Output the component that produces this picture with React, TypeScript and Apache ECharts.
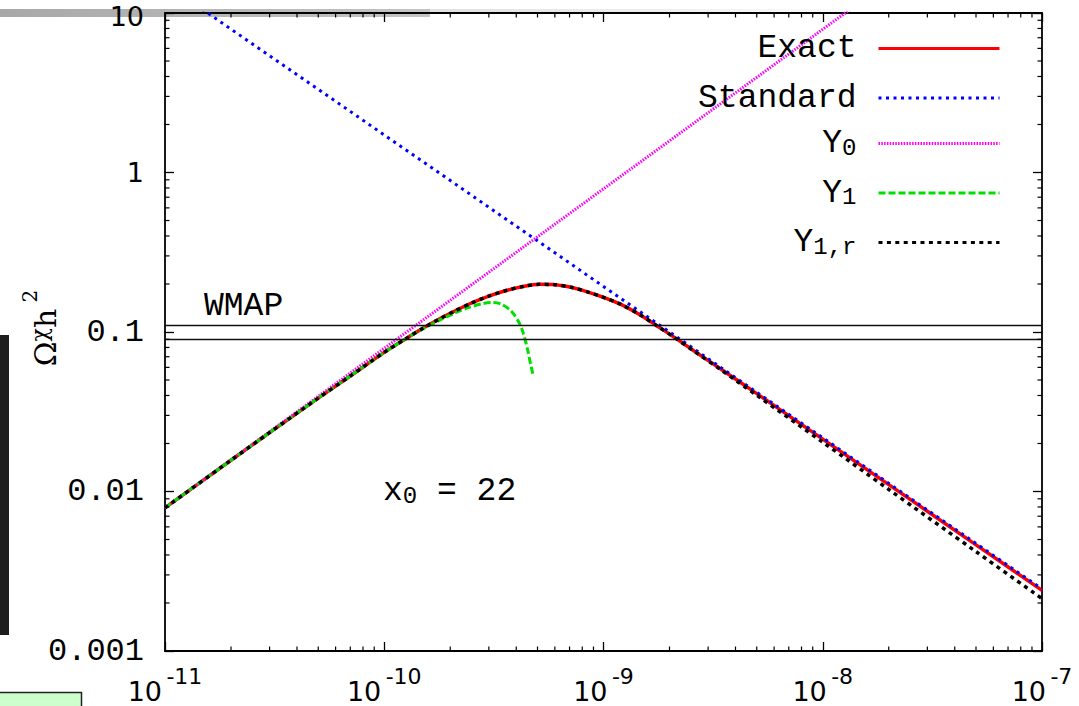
import React, { useEffect, useRef } from 'react';
import * as echarts from 'echarts';

// ---------- data ----------
const exactX = [1e-11, 2e-11, 3e-11, 5e-11, 7e-11, 1e-10, 1.25e-10, 1.5e-10, 1.8e-10, 2.1e-10, 2.5e-10, 3e-10, 3.6e-10, 4.3e-10, 5.1e-10, 6e-10, 7.2e-10, 8.5e-10, 1e-9, 1.2e-9, 1.47e-9, 1.75e-9, 2.08e-9, 2.6e-9, 3.4e-9, 5e-9, 1e-8, 2e-8, 5e-8, 1e-7];
const exactY = [0.0079, 0.0157, 0.0234, 0.0385, 0.053, 0.0745, 0.0905, 0.1055, 0.1215, 0.1355, 0.152, 0.168, 0.182, 0.193, 0.199, 0.198, 0.19, 0.178, 0.165, 0.149, 0.128, 0.1095, 0.0935, 0.0758, 0.059, 0.0411, 0.0213, 0.01105, 0.00463, 0.0024];

const standardX = [1e-11, 1e-10, 1e-9, 1e-8, 1e-7];
const standardY = [15.3, 1.72, 0.193, 0.0217, 0.00245];

const y0X = [1e-11, 1e-10, 1e-9, 1e-8, 2e-8];
const y0Y = [0.0079, 0.079, 0.79, 7.9, 15.8];

const y1X = [1e-11, 2e-11, 3e-11, 5e-11, 7e-11, 1e-10, 1.25e-10, 1.5e-10, 1.8e-10, 2.1e-10, 2.4e-10, 2.8e-10, 3.1e-10, 3.4e-10, 3.8e-10, 4.1e-10, 4.3e-10, 4.5e-10, 4.65e-10, 4.77e-10];
const y1Y = [0.0079, 0.0157, 0.0234, 0.0385, 0.053, 0.0745, 0.0905, 0.1045, 0.119, 0.1315, 0.1415, 0.1505, 0.153, 0.15, 0.135, 0.116, 0.099, 0.078, 0.063, 0.054];

const y1rX = [1e-11, 2e-11, 3e-11, 5e-11, 7e-11, 1e-10, 1.25e-10, 1.5e-10, 1.8e-10, 2.1e-10, 2.5e-10, 3e-10, 3.6e-10, 4.3e-10, 5.1e-10, 6e-10, 7.2e-10, 8.5e-10, 1e-9, 1.2e-9, 1.47e-9, 1.75e-9, 2.08e-9, 2.6e-9, 3.4e-9, 5e-9, 1e-8, 2e-8, 5e-8, 1e-7];
const y1rY = [0.0079, 0.0157, 0.0234, 0.0385, 0.053, 0.0745, 0.0905, 0.1055, 0.1215, 0.1355, 0.152, 0.168, 0.182, 0.193, 0.199, 0.198, 0.19, 0.178, 0.165, 0.149, 0.128, 0.1095, 0.0935, 0.0755, 0.0585, 0.0401, 0.0204, 0.0103, 0.0042, 0.00213];

const wmapBand = [0.09, 0.11];

const xTickExponents = ['-11', '-10', '-9', '-8', '-7'];
const yTickTexts = ['0.001', '0.01', '0.1', '1', '10'];
const minorMultipliers = [2, 3, 4, 5, 6, 7, 8, 9];
const xDecades = [1e-11, 1e-10, 1e-9, 1e-8];
const yDecades = [0.001, 0.01, 0.1, 1];

const seriesNames = ['Exact', 'Standard', 'Y0', 'Y1', 'Y1,r'];
const legendRich: Record<string, string> = {
  Exact: '{n|Exact}',
  Standard: '{n|Standard}',
  Y0: '{m|Y}{s|0}',
  Y1: '{m|Y}{s|1}',
  'Y1,r': '{m|Y}{s|1,r}',
};

const X_MIN = 1e-11, X_MAX = 1e-7, Y_MIN = 0.001, Y_MAX = 10;

const zip = (xs: number[], ys: number[]) => xs.map((x, i) => [x, ys[i]]);

const MONO = "'Liberation Mono', 'DejaVu Sans Mono', monospace";
const SANS = "'DejaVu Sans', sans-serif";
const SERIF = "'DejaVu Serif', 'Liberation Serif', serif";

const minorXData: number[][] = [];
xDecades.forEach((d) => minorMultipliers.forEach((m) => minorXData.push([d * m, 1])));
const minorYData: number[][] = [];
yDecades.forEach((d) => minorMultipliers.forEach((m) => minorYData.push([1e-9, d * m])));

export default function App() {
  const ref = useRef<HTMLDivElement>(null);
  useEffect(() => {
    if (!ref.current) return;
    const chart = echarts.init(ref.current, undefined, { renderer: 'svg' });

    const baseAxis = {
      type: 'log' as const,
      logBase: 10,
      splitLine: { show: false },
      axisLine: { show: true, lineStyle: { color: '#000', width: 1.8 } },
      axisTick: { show: true, inside: true, length: 9, lineStyle: { color: '#000', width: 1.3 } },
    };

    const lineSeries = (name: string, data: number[][], color: string, width: number, type: any, smooth: number | boolean, extra: any = {}) => ({
      name,
      type: 'line',
      data,
      xAxisIndex: 0,
      yAxisIndex: 0,
      showSymbol: false,
      symbol: 'none',
      smooth,
      lineStyle: { color, width, type, cap: 'butt' },
      itemStyle: { color },
      silent: true,
      ...extra,
    });

    const minorTickRender = (isX: boolean) => (params: any, api: any) => {
      const cs = params.coordSys;
      const p = api.coord([api.value(0), api.value(1)]);
      const L = 4.5;
      const st = { stroke: '#000', lineWidth: 1.2 };
      if (isX) {
        const x = p[0];
        return {
          type: 'group',
          children: [
            { type: 'line', shape: { x1: x, y1: cs.y + cs.height, x2: x, y2: cs.y + cs.height - L }, style: st },
            { type: 'line', shape: { x1: x, y1: cs.y, x2: x, y2: cs.y + L }, style: st },
          ],
        };
      }
      const y = p[1];
      return {
        type: 'group',
        children: [
          { type: 'line', shape: { x1: cs.x, y1: y, x2: cs.x + L, y2: y }, style: st },
          { type: 'line', shape: { x1: cs.x + cs.width, y1: y, x2: cs.x + cs.width - L, y2: y }, style: st },
        ],
      };
    };

    const option: any = {
      animation: false,
      backgroundColor: '#fff',
      grid: { left: 165, right: 37, top: 13, bottom: 55, containLabel: false, outerBoundsMode: 'none' },
      xAxis: [
        {
          ...baseAxis,
          position: 'bottom',
          min: X_MIN,
          max: X_MAX,
          axisLabel: {
            margin: 14,
            fontSize: 27,
            fontFamily: SANS,
            color: '#000',
            formatter: (v: number) => {
              const idx = Math.round(Math.log10(v)) + 11;
              return `{b|10}{p|\u2009${xTickExponents[idx]}}`;
            },
            rich: {
              b: { fontFamily: SANS, fontSize: 27, lineHeight: 52, color: '#000' },
              p: { fontFamily: SANS, fontSize: 22, lineHeight: 20, verticalAlign: 'top', color: '#000' },
            },
          },
        },
        {
          ...baseAxis,
          position: 'top',
          min: X_MIN,
          max: X_MAX,
          axisLabel: { show: false },
        },
      ],
      yAxis: [
        {
          ...baseAxis,
          position: 'left',
          min: Y_MIN,
          max: Y_MAX,
          axisLabel: {
            margin: 21,
            fontSize: 32,
            fontFamily: MONO,
            color: '#000',
            formatter: (v: number) => {
              const idx = Math.round(Math.log10(v)) + 3;
              const t = yTickTexts[idx];
              if (idx === yTickTexts.length - 1) return `{z| }{sb|${t}}`;
              return t.length <= 2 ? `{s|${t}}` : `{m|${t}}`;
            },
            rich: {
              s: { fontFamily: SANS, fontSize: 27, lineHeight: 22, color: '#000' },
              z: { fontFamily: SANS, fontSize: 10, lineHeight: 34, verticalAlign: 'top', color: '#000' },
              sb: { fontFamily: SANS, fontSize: 27, lineHeight: 22, verticalAlign: 'bottom', color: '#000' },
              m: { fontFamily: MONO, fontSize: 32, lineHeight: 22, color: '#000' },
            },
          },
        },
        {
          ...baseAxis,
          position: 'right',
          min: Y_MIN,
          max: Y_MAX,
          axisLabel: { show: false },
        },
      ],
      legend: {
        data: seriesNames,
        orient: 'vertical',
        align: 'right',
        right: 78,
        top: 28,
        padding: 0,
        itemWidth: 121,
        itemHeight: 14,
        itemGap: 8.5,
        selectedMode: false,
        itemStyle: { opacity: 0 },
        lineStyle: { width: 3 },
        formatter: (name: string) => legendRich[name],
        textStyle: {
          fontSize: 33,
          fontFamily: MONO,
          color: '#000',
          padding: [0, 17, 0, 0],
          rich: {
            n: { fontFamily: MONO, fontSize: 33, lineHeight: 33, padding: [4, 0, 4, 0], color: '#000' },
            m: { fontFamily: MONO, fontSize: 33, lineHeight: 33, verticalAlign: 'top', padding: [0, 0, 8, 0], color: '#000' },
            s: { fontFamily: MONO, fontSize: 24, lineHeight: 24, verticalAlign: 'bottom', color: '#000' },
          },
        },
      },
      series: [
        lineSeries('Exact', zip(exactX, exactY), '#ff0000', 3.5, 'solid', 0.3, {
          markLine: {
            silent: true,
            symbol: 'none',
            label: { show: false },
            lineStyle: { color: '#111', width: 1.4, type: 'solid' },
            data: wmapBand.map((v) => ({ yAxis: v })),
          },
        }),
        lineSeries('Standard', zip(standardX, standardY), '#0000ff', 3, [3, 4.5], false),
        lineSeries('Y0', zip(y0X, y0Y), '#ff00ff', 3, [1.5, 1.3], false),
        lineSeries('Y1', zip(y1X, y1Y), '#00e000', 3, [7, 3], 0.3),
        lineSeries('Y1,r', zip(y1rX, y1rY), '#000000', 3.5, [4, 4.4], 0.3),
        {
          type: 'custom',
          name: 'minorX',
          silent: true,
          xAxisIndex: 0,
          yAxisIndex: 0,
          data: minorXData,
          renderItem: minorTickRender(true),
          z: 5,
        },
        {
          type: 'custom',
          name: 'minorY',
          silent: true,
          xAxisIndex: 0,
          yAxisIndex: 0,
          data: minorYData,
          renderItem: minorTickRender(false),
          z: 5,
        },
      ],
      graphic: [
        {
          type: 'rect',
          z: -10,
          shape: { x: 0, y: 9, width: 430, height: 8 },
          style: {
            fill: new echarts.graphic.LinearGradient(0, 0, 1, 0, [
              { offset: 0, color: '#a8a8a8' },
              { offset: 1, color: '#c4c4c4' },
            ]),
          },
        },
        {
          type: 'rect',
          z: -10,
          shape: { x: 430, y: 9, width: 420, height: 5 },
          style: {
            fill: new echarts.graphic.LinearGradient(0, 0, 1, 0, [
              { offset: 0, color: '#e0e0e0' },
              { offset: 1, color: '#fbfbfb' },
            ]),
          },
        },
        { type: 'rect', z: -10, shape: { x: 0, y: 335, width: 9, height: 300 }, style: { fill: '#1e1e1e' } },
        { type: 'rect', z: -10, shape: { x: -2, y: 692.5, width: 83.5, height: 20 }, style: { fill: '#ccffcc', stroke: '#222', lineWidth: 1.5 } },
        {
          type: 'text',
          z: 10,
          x: 35,
          y: 328,
          rotation: Math.PI / 2,
          style: {
            text: '{o|Ω}{c|χ}{h|h}{t| 2}',
            align: 'center',
            verticalAlign: 'middle',
            rich: {
              o: { fontFamily: SERIF, fontSize: 30, lineHeight: 30, verticalAlign: 'top', padding: [10, 0, 10, 0], fill: '#000' },
              h: { fontFamily: SERIF, fontSize: 30, lineHeight: 30, verticalAlign: 'top', padding: [10, 0, 10, 0], fill: '#000' },
              c: { fontFamily: SERIF, fontSize: 22, lineHeight: 22, verticalAlign: 'bottom', fill: '#000' },
              t: { fontFamily: SERIF, fontSize: 20, lineHeight: 20, verticalAlign: 'top', fill: '#000' },
            },
          },
        },
        {
          type: 'text',
          z: 10,
          style: { text: 'WMAP', x: 204, y: 306, verticalAlign: 'middle', font: `33px ${MONO}`, fill: '#000' },
        },
        {
          type: 'text',
          z: 10,
          style: {
            text: '{m|x}{s|0}{m| = 22}',
            x: 383,
            y: 475,
            verticalAlign: 'top',
            rich: {
              m: { fontFamily: MONO, fontSize: 33, lineHeight: 33, verticalAlign: 'top', padding: [0, 0, 7, 0], fill: '#000' },
              s: { fontFamily: MONO, fontSize: 24, lineHeight: 24, verticalAlign: 'bottom', fill: '#000' },
            },
          },
        },
      ],
    };

    chart.setOption(option);
    return () => chart.dispose();
  }, []);

  return (
    <div
      ref={ref}
      style={{ position: 'fixed', left: 0, top: 0, width: 1079, height: 706, background: '#fff' }}
    />
  );
}
